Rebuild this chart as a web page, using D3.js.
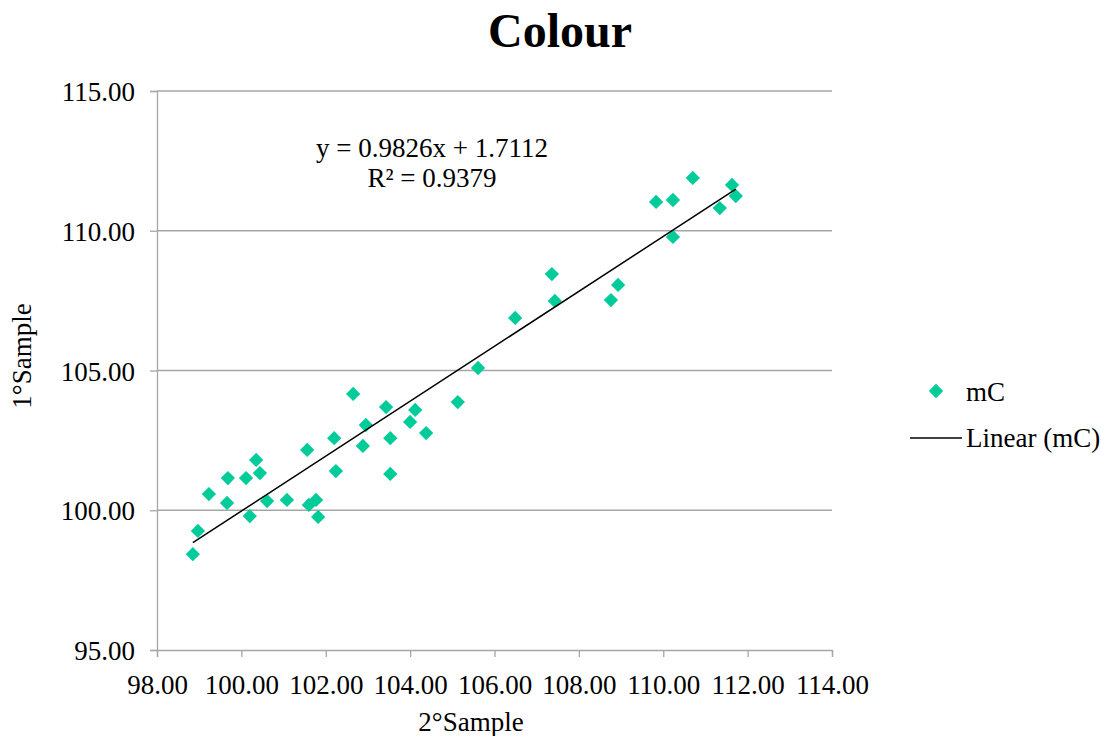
<!DOCTYPE html>
<html>
<head>
<meta charset="utf-8">
<script src="https://cdn.jsdelivr.net/npm/d3@7"></script>
<style>
  body { margin: 0; background: #fff; }
  text { font-family: "Liberation Serif", "Times New Roman", serif; fill: #000; }
</style>
</head>
<body>
<svg width="1101" height="736"></svg>
<script>
// 2°Sample values (x) and 1°Sample values (y)
var sample2 = [98.85, 98.97, 99.23, 99.66, 99.68, 100.11, 100.20, 100.35, 100.44, 100.61,
  101.08, 101.56, 101.60, 101.77, 101.82, 102.20, 102.24, 102.65, 102.88, 102.95,
  103.43, 103.53, 103.53, 104.00, 104.12, 104.38, 105.13, 105.61, 106.49, 107.36,
  107.43, 108.76, 108.93, 109.83, 110.23, 110.23, 110.70, 111.34, 111.63, 111.72];
var sample1 = [98.43, 99.26, 100.58, 100.26, 101.15, 101.15, 99.79, 101.80, 101.33, 100.33,
  100.37, 102.16, 100.19, 100.37, 99.76, 102.58, 101.40, 104.16, 102.30, 103.05,
  103.69, 102.58, 101.30, 103.16, 103.59, 102.76, 103.87, 105.09, 106.88, 108.45,
  107.49, 107.52, 108.06, 111.03, 111.10, 109.78, 111.89, 110.81, 111.64, 111.24];
var xTicks = [98, 100, 102, 104, 106, 108, 110, 112, 114];
var yTicks = [95, 100, 105, 110, 115];
var slope = 0.9826, intercept = 1.7112, rSquared = 0.9379;

var svg = d3.select("svg");
var green = "#00cc99";
var fs = "27px";

var x = d3.scaleLinear().domain([98, 114]).range([157, 832]);
var y = d3.scaleLinear().domain([95, 115]).range([650, 91]);

// title
svg.append("text")
  .attr("x", 560).attr("y", 47)
  .attr("text-anchor", "middle")
  .style("font-size", "48px").style("font-weight", "bold")
  .text("Colour");

// gridlines
svg.append("g").selectAll("line")
  .data(yTicks.slice(1)).enter()
  .append("line")
  .attr("x1", x(98)).attr("x2", x(114))
  .attr("y1", function(d) { return y(d); })
  .attr("y2", function(d) { return y(d); })
  .attr("stroke", "#a6a6a6").attr("stroke-width", 1.3);

var fmt = d3.format(".2f");

var xAxis = svg.append("g")
  .attr("transform", "translate(0," + y(95) + ")")
  .call(d3.axisBottom(x).tickValues(xTicks).tickFormat(fmt).tickSize(7).tickPadding(19));
var yAxis = svg.append("g")
  .attr("transform", "translate(" + x(98) + ",0)")
  .call(d3.axisLeft(y).tickValues(yTicks).tickFormat(fmt).tickSize(7).tickPadding(15));

[xAxis, yAxis].forEach(function(a) {
  a.select(".domain").attr("stroke", "#a6a6a6").attr("stroke-width", 1.3);
  a.selectAll(".tick line").attr("stroke", "#a6a6a6").attr("stroke-width", 1.3);
  a.selectAll(".tick text")
    .style("font-family", "'Liberation Serif', serif")
    .style("font-size", fs).attr("fill", "#000");
});
xAxis.selectAll(".tick text").attr("dy", "0.65em");
yAxis.selectAll(".tick text").attr("dy", "0.36em");

// axis titles
svg.append("text")
  .attr("x", 471).attr("y", 731)
  .attr("text-anchor", "middle").style("font-size", fs)
  .text("2°Sample");
svg.append("text")
  .attr("transform", "translate(31,356) rotate(-90)")
  .attr("text-anchor", "middle").style("font-size", fs)
  .text("1°Sample");

// points
var pts = sample2.map(function(d, i) { return [d, sample1[i]]; });
svg.append("g").selectAll("path")
  .data(pts).enter()
  .append("path")
  .attr("d", d3.symbol(d3.symbolSquare, 102))
  .attr("transform", function(d) { return "translate(" + x(d[0]) + "," + y(d[1]) + ") rotate(45)"; })
  .attr("fill", green);

// trend line
var xMin = d3.min(sample2), xMax = d3.max(sample2);
svg.append("line")
  .attr("x1", x(xMin)).attr("y1", y(slope * xMin + intercept))
  .attr("x2", x(xMax)).attr("y2", y(slope * xMax + intercept))
  .attr("stroke", "#000").attr("stroke-width", 1.5);

// equation
svg.append("text")
  .attr("x", 432).attr("y", 157)
  .attr("text-anchor", "middle").style("font-size", fs)
  .text("y = " + slope + "x + " + intercept);
svg.append("text")
  .attr("x", 432).attr("y", 187)
  .attr("text-anchor", "middle").style("font-size", fs)
  .text("R² = " + rSquared);

// legend
var leg = svg.append("g");
leg.append("path")
  .attr("d", d3.symbol(d3.symbolSquare, 102))
  .attr("transform", "translate(936,391) rotate(45)")
  .attr("fill", green);
leg.append("text").attr("x", 966).attr("y", 401).style("font-size", fs).text("mC");
leg.append("line")
  .attr("x1", 910).attr("x2", 962).attr("y1", 438).attr("y2", 438)
  .attr("stroke", "#000").attr("stroke-width", 1.5);
leg.append("text").attr("x", 966).attr("y", 447).style("font-size", fs).text("Linear (mC)");
</script>
</body>
</html>
